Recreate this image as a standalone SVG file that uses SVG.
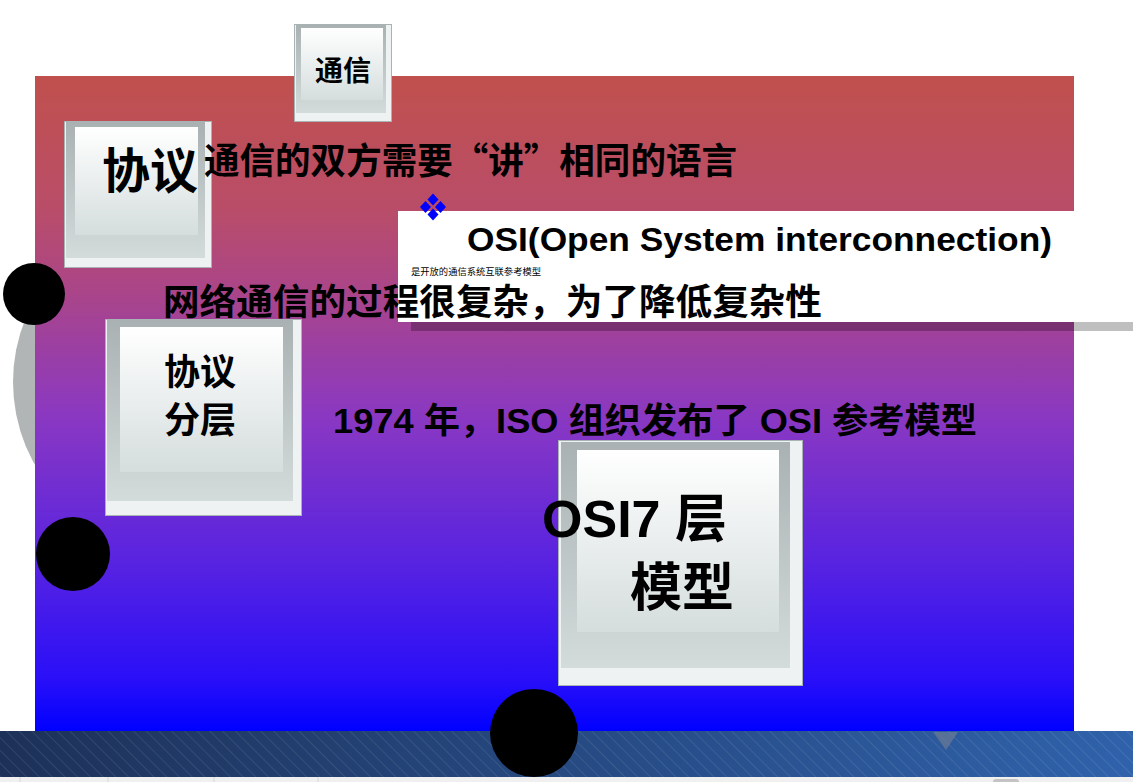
<svg xmlns="http://www.w3.org/2000/svg" width="1133" height="782" viewBox="0 0 1133 782">
<defs>
<style>
.cjk{font-family:"Liberation Sans","Noto Sans CJK SC",sans-serif;font-weight:bold;fill:#000}
.zh{font-family:"Noto Sans CJK SC",sans-serif;font-weight:bold;fill:#000}
.reg{font-family:"Liberation Sans","Noto Sans CJK SC",sans-serif;fill:#000}
.outer{fill:#eef2f2;stroke:#a9b3b4;stroke-width:1}
.frame{fill:url(#gFrame)}
.inner{fill:url(#gInner)}
.dot{fill:#000}
</style>
<linearGradient id="gMain" x1="0" y1="0" x2="0" y2="1">
<stop offset="0" stop-color="#c0504d"/>
<stop offset="0.2" stop-color="#b94d68"/>
<stop offset="0.33" stop-color="#aa4589"/>
<stop offset="0.52" stop-color="#8a38c2"/>
<stop offset="0.75" stop-color="#5622e2"/>
<stop offset="0.92" stop-color="#2a0ff8"/>
<stop offset="1" stop-color="#0000ff"/>
</linearGradient>
<linearGradient id="gFrame" x1="0" y1="0" x2="0" y2="1">
<stop offset="0" stop-color="#a9b1b2"/>
<stop offset="1" stop-color="#d3dbdb"/>
</linearGradient>
<linearGradient id="gInner" x1="0" y1="0" x2="0" y2="1">
<stop offset="0" stop-color="#ffffff"/>
<stop offset="1" stop-color="#d5dddd"/>
</linearGradient>
<linearGradient id="gBand" x1="0" y1="0" x2="1" y2="0">
<stop offset="0" stop-color="#1d3158"/>
<stop offset="1" stop-color="#2f62ab"/>
</linearGradient>
<pattern id="pStripe" patternUnits="userSpaceOnUse" width="9" height="9" patternTransform="rotate(-45)">
<line x1="0" y1="0" x2="0" y2="9" stroke="#ffffff" stroke-opacity="0.09" stroke-width="2"/>
</pattern>
</defs>
<rect width="1133" height="782" fill="#ffffff"/>
<circle cx="181" cy="382" r="168" fill="#b1b5b6"/>
<rect x="35" y="76" width="1039" height="655" fill="url(#gMain)"/>
<rect x="0" y="731" width="1133" height="46" fill="url(#gBand)"/>
<rect x="0" y="731" width="1133" height="46" fill="url(#pStripe)"/>
<rect x="0" y="777" width="1133" height="5" fill="#f0f0f0"/>
<g stroke="#d6d6d6" stroke-width="1">
<line x1="20" y1="777" x2="20" y2="782"/><line x1="108" y1="777" x2="108" y2="782"/><line x1="214" y1="777" x2="214" y2="782"/><line x1="318" y1="777" x2="318" y2="782"/>
</g>
<rect x="993" y="779" width="26" height="6" rx="3" fill="#c4c4c4"/>
<polygon points="933,732 958,732 946,750" fill="#6b7b94" fill-opacity="0.7"/>
<rect x="411" y="224" width="735" height="107" fill="#000" fill-opacity="0.25"/>
<rect x="398" y="211" width="735" height="111" fill="#ffffff"/>
<g id="connectors"/>
<g id="box-tongxin">
<rect class="outer" x="294.5" y="24.5" width="97" height="97"/>
<rect class="frame" x="296" y="25" width="90" height="88"/>
<rect class="inner" x="301" y="28" width="82" height="72"/>
<text class="cjk" x="343" y="81" font-size="28" text-anchor="middle">通信</text>
</g>
<g id="box-xieyi">
<rect class="outer" x="64.5" y="121.5" width="147" height="146"/>
<rect class="frame" x="66" y="122" width="139" height="136"/>
<rect class="inner" x="75" y="127" width="123" height="108"/>
<text class="cjk" x="102" y="188" font-size="48">协议</text>
</g>
<g id="box-fenceng">
<rect class="outer" x="105.5" y="319.5" width="196" height="196"/>
<rect class="frame" x="107" y="320" width="186" height="181"/>
<rect class="inner" x="120" y="327" width="163" height="145"/>
<text class="cjk" x="164" y="385" font-size="36">协议</text>
<text class="cjk" x="164" y="433" font-size="36">分层</text>
</g>
<g id="box-osi7">
<rect class="outer" x="558.5" y="440.5" width="244" height="245"/>
<rect class="frame" x="561" y="442" width="229" height="226"/>
<rect class="inner" x="577" y="450" width="202" height="182"/>
<text class="cjk" x="542" y="537" font-size="52">OSI7 层</text>
<text class="cjk" x="630" y="606" font-size="52">模型</text>
</g>
<g id="texts">
<text class="zh" x="204" y="174" font-size="36" textLength="533" lengthAdjust="spacingAndGlyphs">通信的双方需要“讲”相同的语言</text>
<text class="cjk" x="467" y="251" font-size="33" textLength="585" lengthAdjust="spacingAndGlyphs">OSI(Open System interconnection)</text>
<text class="reg" x="411" y="275" font-size="9" textLength="130" lengthAdjust="spacingAndGlyphs">是开放的通信系统互联参考模型</text>
<text class="cjk" x="163" y="315" font-size="36" textLength="659" lengthAdjust="spacingAndGlyphs">网络通信的过程很复杂，为了降低复杂性</text>
<text class="cjk" x="333" y="433" font-size="35" textLength="644" lengthAdjust="spacingAndGlyphs">1974 年，ISO 组织发布了 OSI 参考模型</text>
</g>
<g id="bullet" fill="#0000ff">
<polygon points="433,193.5 438.5,199.5 433,205.5 427.5,199.5"/>
<polygon points="425.5,201 431,207 425.5,213 420,207"/>
<polygon points="440.5,201 446,207 440.5,213 435,207"/>
<polygon points="433,208.5 438.5,214.5 433,220.5 427.5,214.5"/>
</g>
<g id="dots">
<circle class="dot" cx="34" cy="294" r="31"/>
<circle class="dot" cx="73" cy="554" r="37"/>
<circle class="dot" cx="534" cy="733" r="44"/>
</g>
</svg>
